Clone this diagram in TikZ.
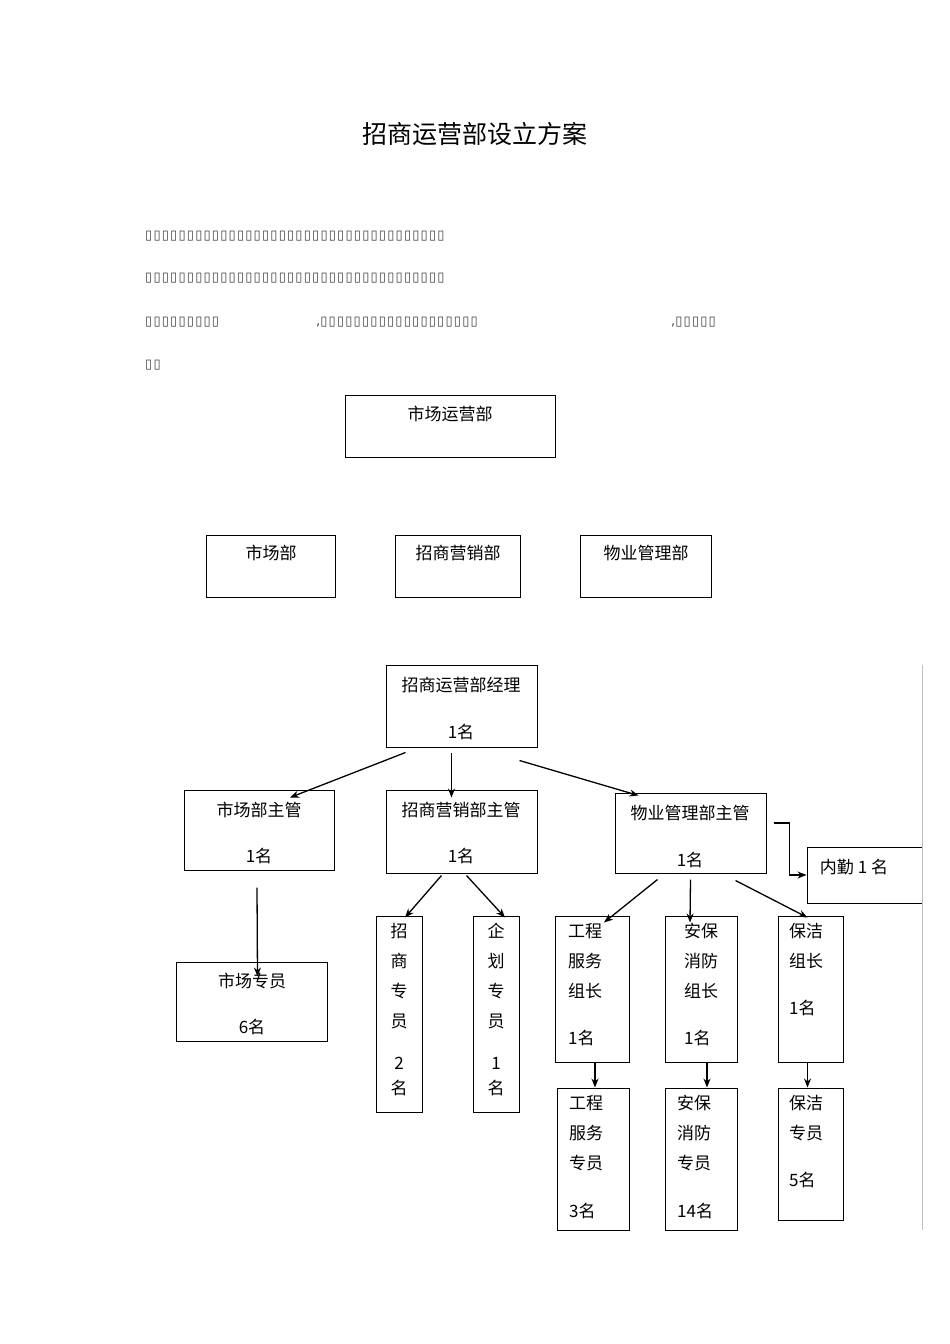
\documentclass[tikz,border=0pt]{standalone}
\usepackage{fontspec}
\setmainfont{Noto Sans CJK SC}
\newfontfamily\tofu{DejaVu Sans}
\usetikzlibrary{arrows.meta}
\tikzset{
  box/.style={draw, line width=1pt, inner sep=0pt},
  txt/.style={font=\fontsize{17}{30}\selectfont, inner sep=0pt, align=center},
  arr/.style={-{Stealth[length=9pt,width=7pt]}, line width=1.3pt},
  para/.style={font=\tofu\fontsize{13}{13}\selectfont, inner sep=0pt, anchor=west, color=black!75}
}
\newcommand{\tofurow}[1]{\foreach \k in {1,...,#1}{\char"25AF\kern1.2pt}}
\begin{document}
\begin{tikzpicture}[x=1pt,y=-1pt]
\useasboundingbox (0,0) rectangle (950,1344);
% title and text
\node[font=\fontsize{25}{25}\selectfont] (title) at (475,134) {招商运营部设立方案};
\node[para] (p1) at (145,236) {\tofurow{36}};
\node[para] (p2) at (145,278) {\tofurow{36}};
\node[para] (p3a) at (145,322) {\tofurow{9}};
\node[para] (p3b) at (316,322) {,\tofurow{19}};
\node[para] (p3c) at (671,322) {,\tofurow{5}};
\node[para] (p4) at (145,365) {\tofurow{2}};
% departments
\node[box, minimum width=210, minimum height=62] (dept) at (450,426) {};
\node[txt] at (450,414) {市场运营部};
\node[box, minimum width=129, minimum height=62] (mkt) at (270.5,566) {};
\node[txt] at (271,553) {市场部};
\node[box, minimum width=125, minimum height=62] (inv) at (457.5,566) {};
\node[txt] at (458,553) {招商营销部};
\node[box, minimum width=131, minimum height=62] (prop) at (645.5,566) {};
\node[txt] at (646,553) {物业管理部};
% manager level
\node[box, minimum width=151, minimum height=82] (mgr) at (461.5,706) {};
\node[txt] at (461,685) {招商运营部经理};
\node[txt] at (461,732) {1名};
\node[box, minimum width=150, minimum height=80] (mktm) at (259,830) {};
\node[txt] at (259,810) {市场部主管};
\node[txt] at (259,856) {1名};
\node[box, minimum width=151, minimum height=83] (invm) at (461.5,831.5) {};
\node[txt] at (461,810) {招商营销部主管};
\node[txt] at (461,856) {1名};
\node[box, minimum width=151, minimum height=80] (propm) at (690.5,833) {};
\node[txt] at (690,813) {物业管理部主管};
\node[txt] at (690,860) {1名};
\node[box, minimum width=115, minimum height=56] (clerk) at (864.5,875) {};
\node[txt] at (854,867) {内勤 1 名};
% staff
\node[box, minimum width=151, minimum height=79] (mkts) at (251.5,1001.5) {};
\node[txt] at (252,981) {市场专员};
\node[txt] at (252,1027) {6名};
\node[box, minimum width=46, minimum height=196] (invs) at (399,1014) {};
\node[txt, anchor=north] at (399,923) {招\\商\\专\\员\\[12pt]2\\[-5pt]名};
\node[box, minimum width=46, minimum height=196] (plan) at (496,1014) {};
\node[txt, anchor=north] at (496,923) {企\\划\\专\\员\\[12pt]1\\[-5pt]名};
\node[box, minimum width=74, minimum height=146] (engl) at (592,989) {};
\node[txt, anchor=north west, align=left] at (568,923) {工程\\服务\\组长\\[17pt]1名};
\node[box, minimum width=72, minimum height=146] (secl) at (701,989) {};
\node[txt, anchor=north west, align=left] at (684,923) {安保\\消防\\组长\\[17pt]1名};
\node[box, minimum width=65, minimum height=146] (clnl) at (810.5,989) {};
\node[txt, anchor=north west, align=left] at (789,923) {保洁\\组长\\[17pt]1名};
\node[box, minimum width=72, minimum height=142] (engs) at (593,1159) {};
\node[txt, anchor=north west, align=left] at (569,1095) {工程\\服务\\专员\\[18pt]3名};
\node[box, minimum width=72, minimum height=142] (secs) at (701,1159) {};
\node[txt, anchor=north west, align=left] at (677,1095) {安保\\消防\\专员\\[18pt]14名};
\node[box, minimum width=65, minimum height=132] (clns) at (810.5,1154) {};
\node[txt, anchor=north west, align=left] at (789,1095) {保洁\\专员\\[17pt]5名};
% side rule
\draw[black!25, line width=1pt] (922,665) coordinate (r1) -- (922,1230) coordinate (r2);
% connectors
\draw[arr] ([xshift=-56pt,yshift=-5pt]mgr.south) -- ([xshift=31pt,yshift=-8pt]mktm.north);
\draw[arr] ([xshift=-10pt,yshift=-5pt]mgr.south) -- ([xshift=-10pt,yshift=-8pt]invm.north);
\draw[arr] ([xshift=58pt,yshift=-13pt]mgr.south) -- ([xshift=-52pt,yshift=-3pt]propm.north);
\draw[arr] ([xshift=-2pt,yshift=-17pt]mktm.south) -- ([xshift=6pt,yshift=-15pt]mkts.north);
\draw[arr] ([xshift=-20pt,yshift=-2pt]invm.south) -- ([xshift=6pt,yshift=-2pt]invs.north);
\draw[arr] ([xshift=5pt,yshift=-2pt]invm.south) -- ([xshift=9pt,yshift=-2pt]plan.north);
\draw[arr] ([xshift=-33pt,yshift=-6pt]propm.south) -- ([xshift=12pt,yshift=-7pt]engl.north);
\draw[arr] ([yshift=-6pt]propm.south) -- ([xshift=-11pt,yshift=-7pt]secl.north);
\draw[arr] ([xshift=45pt,yshift=-7pt]propm.south) -- ([xshift=-3pt,yshift=-2pt]clnl.north);
\draw[arr] ([xshift=7pt,yshift=10pt]propm.east) -| ([xshift=-17pt]clerk.west) -- (clerk.west);
\draw[arr] ([xshift=3pt]engl.south) -- ([xshift=2pt]engs.north);
\draw[arr] ([xshift=6pt]secl.south) -- ([xshift=6pt]secs.north);
\draw[arr] ([xshift=-3pt]clnl.south) -- ([xshift=-3pt]clns.north);
\end{tikzpicture}
\end{document}
